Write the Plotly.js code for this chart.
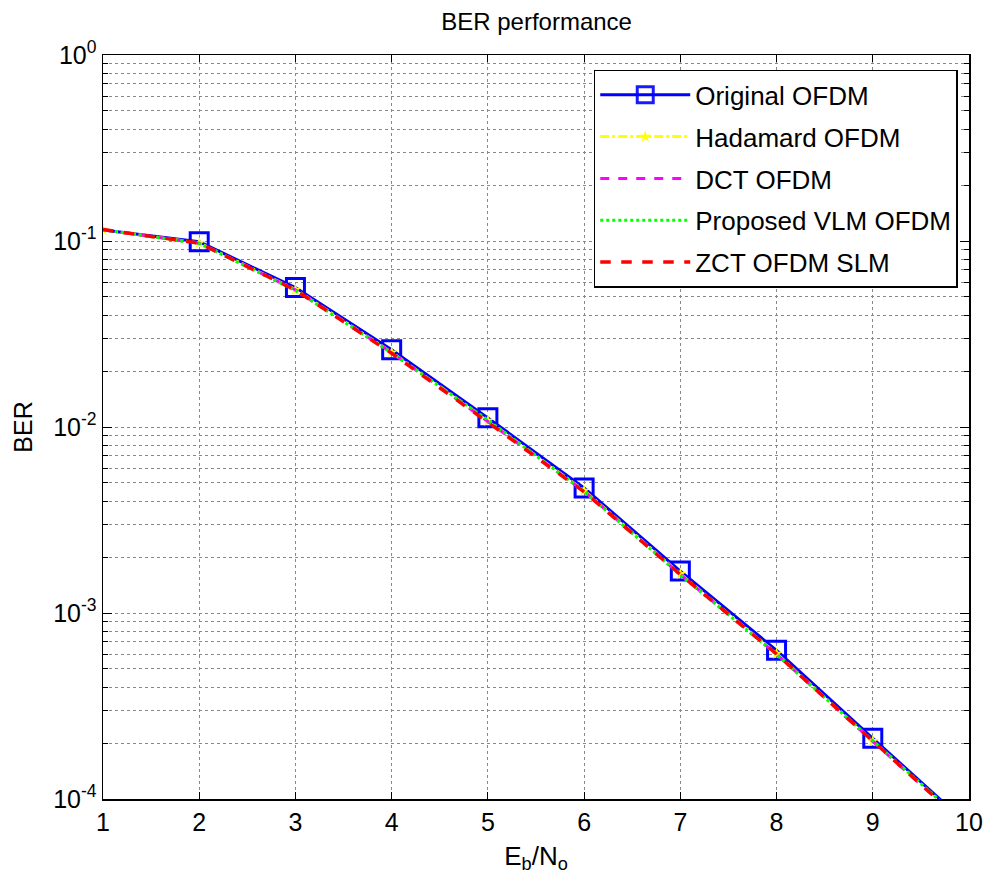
<!DOCTYPE html>
<html><head><meta charset="utf-8">
<script src="https://cdn.plot.ly/plotly-3.0.1.min.js"></script>
<style>html,body{margin:0;padding:0;background:#fff}</style>
</head><body><div id="chart" style="width:990px;height:884px"></div>
<script>
const ebno = [1,2,3,4,5,6,7,8,9,10];
const berOriginal = [0.1146,0.0990,0.0562,0.0260,0.0112,0.00470,0.00168,0.000630,0.000212,0.0000720];
const berHadamard = [0.1150,0.0975,0.0548,0.0252,0.0108,0.00455,0.00162,0.000605,0.000205,0.0000705];
const berDCT      = [0.1148,0.0972,0.0546,0.0251,0.0107,0.00452,0.00161,0.000600,0.000204,0.0000700];
const berProposed = [0.1150,0.0970,0.0542,0.0250,0.0109,0.00450,0.00160,0.000598,0.000206,0.0000712];
const berZCT      = [0.1152,0.0974,0.0545,0.0249,0.0106,0.00448,0.00161,0.000602,0.000205,0.0000700];
const names = ['Original OFDM','Hadamard OFDM','DCT OFDM','Proposed VLM OFDM','ZCT OFDM SLM'];
const yTickVals = [1e-4,1e-3,1e-2,1e-1,1];
const yTickText = ['10<sup>-4</sup>','10<sup>-3</sup>','10<sup>-2</sup>','10<sup>-1</sup>','10<sup>0</sup>'];
const xTickVals = [1,2,3,4,5,6,7,8,9,10];

const minorVals = [];
for (let e=-4;e<0;e++) for (let m=2;m<=9;m++) minorVals.push(m*Math.pow(10,e));

const markerOpacity = ebno.map(v => v === 1 ? 0 : 1);

const traces = [
 {x:ebno,y:berOriginal,name:names[0],legendgroup:'g0',mode:'lines+markers',line:{color:'#0000ff',width:3},
  marker:{symbol:'square-open',size:18,opacity:markerOpacity,color:'#0000ff',line:{width:3,color:'#0000ff'}}},
 {x:ebno,y:berHadamard,name:names[1],legendgroup:'g1',mode:'lines+markers',line:{color:'#ffff00',width:3,dash:'dashdot'},
  marker:{symbol:'star',size:9,color:'#ffff00'}},
 {x:ebno,y:berDCT,name:names[2],legendgroup:'g2',mode:'lines',line:{color:'#ff00ff',width:3,dash:'dash'}},
 {x:ebno,y:berProposed,name:names[3],legendgroup:'g3',mode:'lines',line:{color:'#00ff00',width:3,dash:'dot'}},
 {x:ebno,y:berZCT,name:names[4],legendgroup:'g4',mode:'lines',line:{color:'#ff0000',width:3.5,dash:'dash'}}
];

const layout = {
 width:990,height:884,
 margin:{l:103,r:21,t:55,b:85},
 paper_bgcolor:'#fff',plot_bgcolor:'#fff',
 font:{family:'Liberation Sans, Arial, sans-serif',color:'#000',size:25},
 title:{text:'BER performance',font:{size:24,color:'#000'},x:0.542,xanchor:'center',y:0.976,yanchor:'middle'},
 xaxis:{range:[1,10],tickmode:'array',tickvals:xTickVals,ticks:'inside',ticklen:7,tickcolor:'#000',
  showline:true,linecolor:'#000',linewidth:1.5,mirror:'ticks',showgrid:true,gridcolor:'#888',griddash:'dot',gridwidth:1,
  zeroline:false,tickfont:{size:25},
  title:{text:'E<sub>b</sub>/N<sub>o</sub>',font:{size:26},standoff:12}},
 yaxis:{type:'log',range:[-4,0],tickmode:'array',tickvals:yTickVals,ticktext:yTickText,ticks:'inside',ticklen:9,tickcolor:'#000',
  showline:true,linecolor:'#000',linewidth:1.5,mirror:'ticks',showgrid:true,gridcolor:'#888',griddash:'dot',gridwidth:1,
  zeroline:false,tickfont:{size:25},
  minor:{tickmode:'array',tickvals:minorVals,ticks:'inside',ticklen:5,tickcolor:'#000',showgrid:true,gridcolor:'#888',griddash:'dot',gridwidth:1},
  title:{text:'BER',font:{size:25},standoff:13}},
 legend:{x:0.987,xanchor:'right',y:0.98,yanchor:'top',bgcolor:'#fff',bordercolor:'#000',borderwidth:1.5,
  font:{size:26},itemwidth:90,tracegroupgap:5},
 showlegend:true
};
Plotly.newPlot('chart',traces,layout,{displayModeBar:false,staticPlot:true});
</script></body></html>
